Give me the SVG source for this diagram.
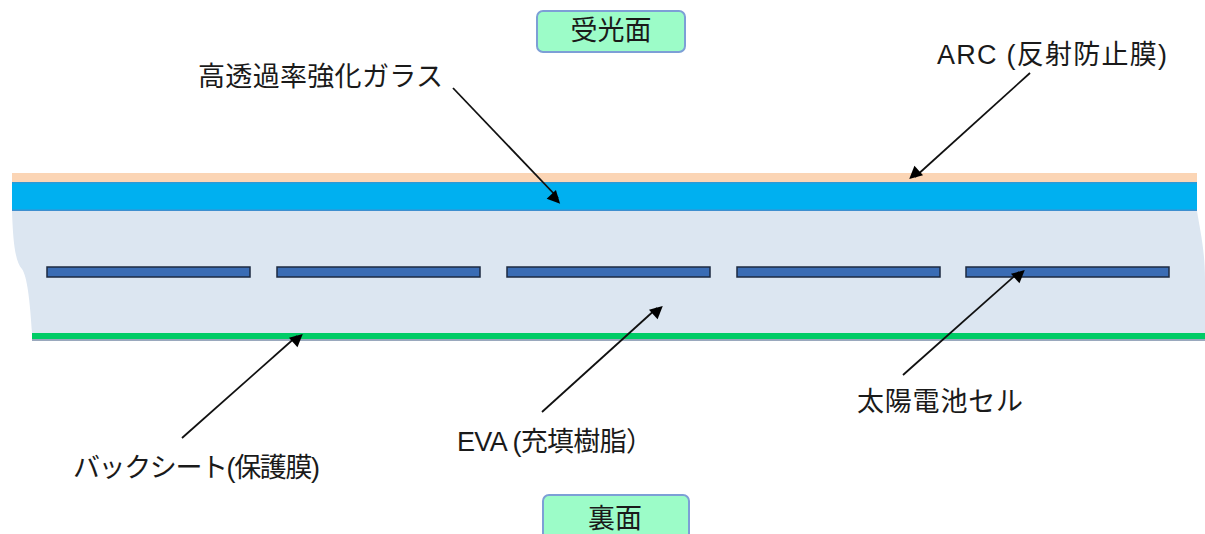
<svg xmlns="http://www.w3.org/2000/svg" width="1205" height="534" viewBox="0 0 1205 534">
<style>
text{font-family:"Liberation Sans","Noto Sans CJK JP",sans-serif;font-size:27px;fill:#1a1a1a}
.cell{fill:#3a6cb4;stroke:#1c2a40;stroke-width:1.5}
.box{fill:#9cfcc8;stroke:#7d9fd6;stroke-width:2}
.conn{stroke:#111;stroke-width:1.8;fill:none;marker-end:url(#ah)}
</style>
<defs>
<marker id="ah" viewBox="0 0 10 10" refX="9" refY="5" markerWidth="9" markerHeight="8" markerUnits="userSpaceOnUse" orient="auto" overflow="visible">
<path d="M0,0 L10,5 L0,10 z" fill="#000" transform="scale(1.6)" />
</marker>
</defs>
<rect width="1205" height="534" fill="#fff"/>
<g id="eva">
<path d="M12,211 L1197,211 C1200,230 1205,250 1205,280 L1205,333 L32,333 C30,300 27,276 22,269 C15,262 13,240 12,211 z" fill="#dce6f1"/>
</g>
<g id="arc-layer"><rect x="12" y="173" width="1185" height="9" fill="#fbd5b5"/></g>
<g id="glass-layer"><rect x="12" y="182" width="1185" height="29" fill="#00b0f0"/><rect x="12" y="209.5" width="1185" height="1.5" fill="#3d8fd0"/><rect x="12" y="182" width="1185" height="1.5" fill="#2a9ad8"/></g>
<g id="backsheet-layer"><rect x="32" y="339" width="1173" height="2" fill="#9aa8bd"/><rect x="32" y="333" width="1173" height="6" fill="#00cc66"/></g>
<g id="cells">
<rect class="cell" x="47" y="267" width="203" height="10"/>
<rect class="cell" x="277" y="267" width="203" height="10"/>
<rect class="cell" x="507" y="267" width="203" height="10"/>
<rect class="cell" x="737" y="267" width="203" height="10"/>
<rect class="cell" x="966" y="267" width="203" height="10"/>
</g>
<g id="top-label"><rect class="box" x="537" y="11" width="148" height="41" rx="6"/><text x="611" y="40" text-anchor="middle">受光面</text></g>
<g id="bottom-label"><rect class="box" x="543" y="495" width="146" height="50" rx="6"/><text x="615" y="528" text-anchor="middle">裏面</text></g>
<g id="label-glass"><text x="198" y="86" textLength="245" lengthAdjust="spacing">高透過率強化ガラス</text></g>
<g id="label-arc"><text x="937" y="64" textLength="230" lengthAdjust="spacing">ARC (反射防止膜)</text></g>
<g id="label-backsheet"><text x="73" y="477" textLength="247" lengthAdjust="spacing">バックシート(保護膜)</text></g>
<g id="label-eva"><text x="457" y="451" textLength="196" lengthAdjust="spacing">EVA (充填樹脂）</text></g>
<g id="label-cell"><text x="857" y="411" textLength="166" lengthAdjust="spacing">太陽電池セル</text></g>
<g id="connectors">
<line class="conn" x1="453" y1="88" x2="558" y2="198"/>
<line class="conn" x1="1030" y1="73" x2="915" y2="177"/>
<line class="conn" x1="182" y1="438" x2="297" y2="336"/>
<line class="conn" x1="542" y1="412" x2="657" y2="308"/>
<line class="conn" x1="903" y1="375" x2="1019" y2="272"/>
</g>
</svg>
